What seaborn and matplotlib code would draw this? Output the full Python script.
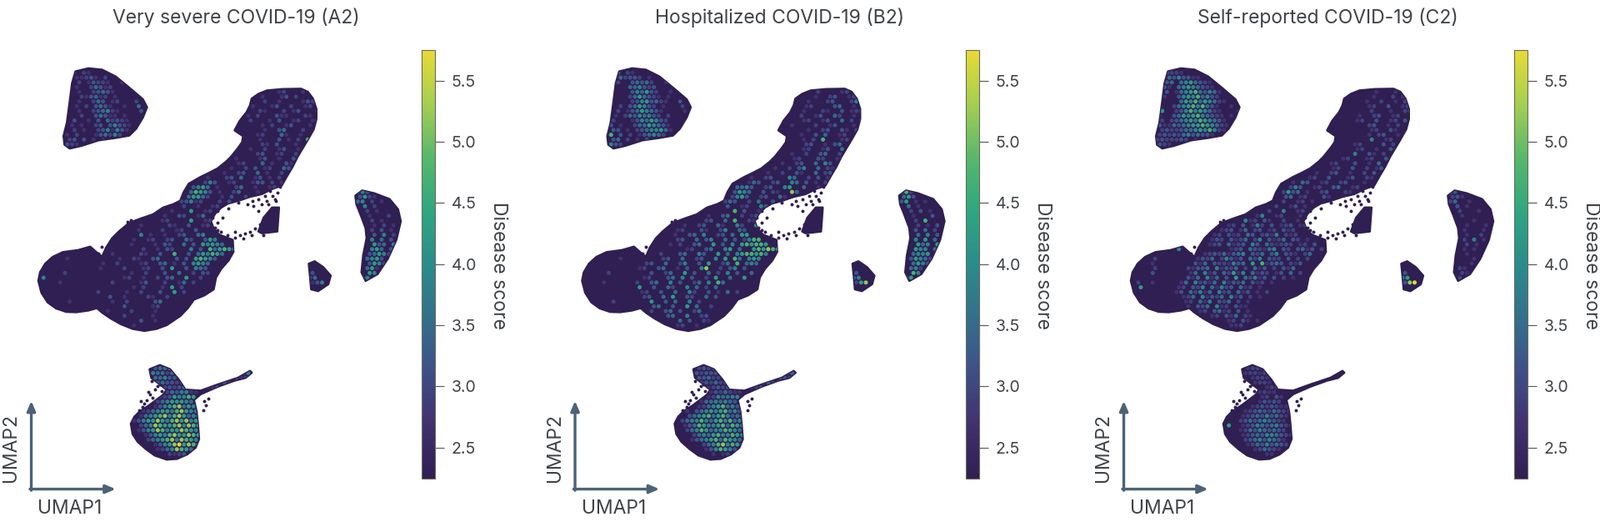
import pandas as pd
import matplotlib
matplotlib.use('Agg')
import matplotlib.pyplot as plt
from matplotlib.colors import LinearSegmentedColormap, Normalize
from matplotlib.path import Path
from matplotlib.transforms import Affine2D
import seaborn as sns

# titles and colorbar
titles = ['Very severe COVID-19 (A2)', 'Hospitalized COVID-19 (B2)', 'Self-reported COVID-19 (C2)']
cbar_ticks = [2.5, 3.0, 3.5, 4.0, 4.5, 5.0, 5.5]
cbar_label = 'Disease score'
score_min = 2.25
score_max = 5.75

# outlines of the clusters
top_blob = [(222,210),(260,201),(300,205),(340,225),(385,262),(420,292),(432,315),(420,345),(400,378),(380,398),
            (340,405),(290,412),(240,428),(205,436),(190,425),(187,400),(197,360),(205,300),(212,245)]
main_body = [(740,290),(760,276),(785,266),(830,262),(885,261),(905,270),(920,290),(930,320),(930,350),(922,380),
             (905,410),(890,435),(875,460),(860,490),(845,515),(828,545),(800,555),(770,570),(735,578),(700,590),
             (670,598),(650,610),(632,628),(620,650),(628,672),(645,690),(684,705),(686,740),(672,765),(650,790),
             (635,815),(628,850),(600,868),(570,880),(552,905),(530,928),(490,955),(460,966),(425,972),(390,966),
             (355,952),(325,935),(300,918),(285,905),(260,912),(225,917),(195,916),(165,906),(140,888),(122,860),
             (113,825),(118,800),(133,775),(155,755),(185,741),(230,735),(265,725),(282,740),(300,755),(312,728),
             (330,700),(350,680),(380,655),(415,642),(450,630),(480,610),(510,600),(530,590),(540,565),(555,540),
             (590,520),(615,508),(640,495),(665,475),(680,460),(700,435),(712,418),(715,400),(690,383),(705,355),
             (725,330),(735,310)]
side_lobe = [(760,680),(775,640),(800,610),(820,610),(815,680),(770,685)]
crescent = [(1045,575),(1065,560),(1100,568),(1145,585),(1170,615),(1178,650),(1165,705),(1140,760),(1110,805),
            (1075,825),(1063,800),(1068,750),(1078,700),(1075,670),(1060,630),(1048,600)]
small_blob = [(908,775),(925,768),(950,785),(972,810),(965,835),(935,855),(915,850),(912,815)]
bottom_blob = [(440,1085),(470,1073),(500,1085),(525,1115),(545,1145),(590,1148),(640,1130),(700,1110),(735,1090),
               (740,1095),(722,1110),(690,1118),(640,1136),(590,1158),(570,1175),(578,1210),(582,1250),(585,1290),
               (575,1315),(550,1335),(520,1348),(490,1350),(455,1338),(430,1320),(405,1298),(390,1275),(385,1245),
               (395,1225),(410,1210),(440,1190),(480,1160),(490,1145),(465,1125),(445,1110)]
outlines = [top_blob, main_body, side_lobe, crescent, small_blob, bottom_blob]

# loose cells around the hole and the bottom cluster
stray_x = [640,655,625,615,632,650,668,690,705,720,735,750,765,760,745,770,785,800,815,822,810,795,780,760,742,728,
           700,672,655,640,612,625,300,290,280,470,455,440,430,445,420,408,400,605,612,520,500,475,462,448,436,425,
           415,393,600,598,640,660,375,385,280,295,690,715,740,775,790,808]
stray_y = [620,600,640,660,668,680,690,682,690,686,680,672,660,620,605,600,590,575,565,548,590,560,575,585,590,600,
           596,612,640,655,650,675,725,745,770,1130,1145,1160,1175,1120,1195,1205,1225,1190,1170,615,605,1150,1135,
           1168,1152,1185,1178,1240,1178,1205,675,700,652,648,885,905,698,700,692,690,600,585]

# score of each digit in the cell maps below, 0 means no visible cell
digit_scores = [0, 2.7, 2.95, 3.2, 3.5, 3.85, 4.25, 4.7, 5.2, 5.65]

# cell maps, one line per row, "column:digits"
cells_a = [
 "10:00", "8:10210", "8:0112310200", "8:020132210010", "8:0100243120000",
 "8:01002343100000 49:001200010", "8:002134120100000 47:010001302000", "8:0100243012000200 46:0020010000132",
 "7:00102034310010040 45:010001300200120", "7:001002345210000300 45:002100020130001", "7:000200343110100000 44:0102000311000210",
 "7:0300103042321000 43:00200010300120012", "7:0101002303532100 43:00000102001300010", "7:020100235153100 42:000000100340002001",
 "6:01020001342520 44:000120004100100", "6:02303010100 44:00010003010207", "6:03210 44:0000210300010030",
 "43:00100200130010", "42:000002300120020", "41:0100001300100312",
 "40:000120004010031", "39:0010020301200430", "37:000100230040100200", "35:010002304001301020",
 "32:0000253001200013302010", "32:03564010002400100120", "32:0476530100240001 68:353", "31:04664200103002 68:362100",
 "30:023512000203 68:4502010", "28:000200100120034 50:00 68:050200000", "26:0001000600120000 50:00 69:02010000",
 "24:000100320014000 49:000 69:010002000", "22:00000120000600120 48:0000 69:0020100000", "19:0001000002100300120060 48:0000 70:01020100",
 "18:000010000200120030 47:00000 70:0203010", "17:0000050100100230045 70:0305020", "17:0000100120023004200365 70:0504030",
 "16:000010000103200403065654 70:063405", "9:0000000000000020010320005030746765 70:056403", "5:00000000000100000210030070030465764 69:0346520",
 "4:00010000000000100210034000303067653 69:0456301", "3:00000000000100200001200340103056540 69:036520", "2:00000000000010000200012003060030543 69:04610",
 "1:0000020000000000000100200030040020320 58:300 69:0650", "1:050000000000000000120010020340060020 58:2400 69:45",
 "1:0000100000000002000001300020014020 58:1350", "1:00000000000000000000102000106020",
 "1:000000000000200000100200030060200", "2:00000000000000300100002100200000", "3:0000100000000100200000340000",
 "4:000000000000000300000120000", "7:0000 14:01000020000100000", "16:000200000100000", "18:000030010000", "19:001000000", "22:000",
 "", "", "", "", "", "", "",
 "25:3444", "24:354424 44:25", "25:44533 42:212", "26:343322 39:1311", "27:23234 36:1131",
 "27:324355110", "26:12365576", "25:024566654", "24:01356784657", "22:01245665786546", "21:014567857864567",
 "20:0135668657868564", "20:0024587667858765", "20:0013568756687654", "21:001356578668764", "21:00024567858765",
 "22:0001356896875", "23:00012458764", "26:002123", "28:000",
]
cells_b = [
 "10:00", "8:30210", "8:1423320100", "8:200343420010", "8:0004453230000",
 "8:00035463200100 49:020000120", "8:000246432101000 47:000100230012", "8:0002356342100300 46:0010002300025",
 "7:00203465320100020 45:000120000340010", "7:020134654310000100 45:001000210030123", "7:010243545320200000 44:0002001300420010",
 "7:2000135465320000 43:00001200130040203", "7:3010024465431000 43:00100002001300010", "7:330102345564100 42:000000100230031020",
 "6:27030201345420 44:000100304001200", "6:03402010300 44:0001020700012", "6:05320 44:0000230010340010",
 "43:00001200130040", "42:000100200340020", "41:0000120003200130",
 "40:000100230040530", "39:0010020350040210", "37:000100200310040230", "35:010023000540020301",
 "32:0000143002300540301020", "32:04453002300560040010", "32:0365400302100840 68:572", "31:02563002300410 68:463000",
 "30:024300204003 68:3601010", "28:000300120053 50:00 68:040100000", "26:0000000703001200 50:00 69:02030100",
 "24:000100340020130 49:000 69:010003000", "22:00000230040700210 48:0000 69:0020700000", "19:0001002300410052006301 48:0000 70:02010300",
 "18:000120003100250043 47:00000 70:0304020", "17:0001003405002304066 70:0405030", "17:0000230040350040302577 70:0506040",
 "16:000102003400603050676776 70:064506", "9:0000000000000012003400560400676877 70:065504", "5:00000000000020003400530060405677675 69:0455601",
 "4:00000100000000230040023005060740565 69:0365420", "3:00000000000230040025003060024070454 69:046530", "2:00000000000120034001030058002035030 69:04520",
 "1:0000020000000030024006030040205030040 58:300 69:0750", "1:000000000000012000340503002060040060 58:3500 69:46",
 "1:0000100000020034005030024050740 58:2680", "1:00000000000060030042005040204",
 "1:000000000000120030040052003010402", "2:00000000000023004060032004030000", "3:0000200000006003040050200",
 "4:000000000000340030060400200", "7:0000 14:02003403002400000", "16:000340050023000", "18:000403002100", "19:001200100", "22:000",
 "", "", "", "", "", "", "",
 "25:2322", "24:232333 44:34", "25:33422 42:332", "26:232423 39:2422", "27:12323 36:1231",
 "27:213242110", "26:01254455", "25:014454543", "24:01245674536", "22:01034565674535", "21:003456746753456",
 "20:0024557546757453", "20:0013476556747654", "20:0002457645576543", "21:000245467557653", "21:00013456747654",
 "22:0000245785764", "23:00001357653", "26:001012", "28:000",
]
cells_c = [
 "10:00", "8:32210", "8:3435331100", "8:340456432100", "8:3104565432100",
 "8:30145674354100 49:000100010", "8:100356574532000 47:000001000201", "8:0004657465421000 46:0000100200102",
 "7:20024567574310010 45:000000120030012", "7:600235756542100010 45:000000200010023", "7:100346567543210100 44:0000010023001200",
 "7:2023456576543100 43:00000120030012030", "7:3114345667654210 43:00000000230010200", "7:232234456575210 42:000000000120031000",
 "6:12323245343310 44:000000010230010", "6:23222320100 44:0000000500120", "6:23210 44:0000120000302010",
 "43:00000120010031", "42:000000500310200", "41:0000120001200310",
 "40:000120003001040", "39:0000120030020130", "37:000100230010020300", "35:000120030001300210",
 "32:0001043001200230001000", "32:00253001200340012000", "32:0263401002300021 68:530", "31:00340120003100 68:2310",
 "30:000200120100 68:2400100", "28:000200130100 50:00 68:030100000", "26:0000200500120000 50:00 69:02000100",
 "24:000150012000100 49:000 69:010000000", "22:00051203100200100 48:0000 69:0000100000", "19:0012030152030123012100 48:0000 70:01000100",
 "18:001230140230120312 47:00000 70:0100010", "17:0120312043023150212 70:0100200", "17:0132031240250312403201 70:0205010",
 "16:012304123053042123201203 70:020100", "9:0050000000000123043214503203413020 70:010100", "5:00000000000123241345032403503210240 69:0010000",
 "4:00200000000132402531304250322030202 69:0000100", "3:00100000000314032215340607134302130 69:000100", "2:00002000000213340513240204130203140 69:02100",
 "1:0000300000001405130426150413201304020 58:300 69:0210", "1:000000000000314051403060425130302010 58:4600 69:02",
 "1:0200100000140523140513240312010 58:3890", "1:00600000001203250415230412010",
 "1:000000000130425140523041301020000", "2:00000000001240513240513020100000", "3:0000000001204150324020100",
 "4:000000000103240512031100000", "7:0000 14:01203412030100000", "16:001203140210000", "18:000120310100", "19:000112000", "22:000",
 "", "", "", "", "", "", "",
 "25:1221", "24:012212 44:00", "25:01221 42:000", "26:012210 39:0000", "27:00121 36:0000",
 "27:012110000", "26:00120310", "25:000132320", "24:00123232110", "22:00012343243210", "21:000123435342100",
 "20:0000234345432100", "20:0600123543453210", "20:0000124354343200", "21:000123435543210", "21:00002345354310",
 "22:0001243534320", "23:00001243210", "26:000110", "28:000",
]
panel_cells = [cells_a, cells_b, cells_c]

# colorbar colours
cmap = LinearSegmentedColormap.from_list('score', ['#2f1f52', '#41316f', '#3f4f88', '#33708c', '#2a8c8a', '#2fa681',
                                                   '#57b86c', '#a5cf52', '#e8da35'])
norm = Normalize(score_min, score_max)
dark = cmap(0.0)
text_col = '#3f4347'
arrow_col = '#4b6277'


def read_cells(rows):
    out = []
    for r, line in enumerate(rows):
        for part in line.split():
            start, digits = part.split(':')
            for k, d in enumerate(digits):
                if d != '0':
                    # every other row sits half a cell over
                    out.append((100 + 14 * (int(start) + k) + 7 * (r % 2), 200 + 14 * r, digit_scores[int(d)]))
    return pd.DataFrame(out, columns=['umap1', 'umap2', 'score'])


sns.set_style('white')
plt.rcParams['font.family'] = ['Inter', 'DejaVu Sans']

W, H = 1920, 632
Z = 2.45  # outline units per output pixel
fig = plt.figure(figsize=(W / 100, H / 100), dpi=100)

clip = Path.make_compound_path(*[Path(o + [o[0]], closed=True) for o in outlines])
arrow_style = dict(arrowstyle='-|>,head_length=0.7,head_width=0.3', color=arrow_col, lw=2.4, shrinkA=0, shrinkB=0)

for i, (left, cleft) in enumerate([(0, 506), (652.5, 1159), (1311, 1817)]):
    ax = fig.add_axes([left / W, 0, 500 / W, 1])
    ax.set_xlim(0, 500 * Z)
    ax.set_ylim(H * Z, 0)
    ax.axis('off')

    for o in outlines:
        xs, ys = zip(*o)
        ax.fill(xs, ys, color=dark, lw=2, joinstyle='round', zorder=1)

    sns.scatterplot(x=stray_x, y=stray_y, color=dark, s=8, linewidth=0, ax=ax, zorder=2, legend=False)

    df = read_cells(panel_cells[i]).sort_values('score')
    sns.scatterplot(data=df, x='umap1', y='umap2', hue='score', palette=cmap, hue_norm=norm, s=13, linewidth=0,
                    legend=False, ax=ax, zorder=3)
    ax.collections[-1].set_clip_path(clip, ax.transData)
    ax.set_xlabel('')
    ax.set_ylabel('')

    ax.text(693, 52, titles[i], ha='center', va='center', fontsize=16.5, color=text_col)

    # UMAP arrows
    ax.annotate('', xy=(92, 1178), xytext=(92, 1441), arrowprops=arrow_style)
    ax.annotate('', xy=(340, 1437), xytext=(88, 1437), arrowprops=arrow_style)
    ax.text(205, 1495, 'UMAP1', ha='center', va='center', fontsize=16.5, color=text_col)
    ax.text(32, 1315, 'UMAP2', ha='center', va='center', rotation=90, fontsize=16.5, color=text_col)

    # colorbar
    cax = fig.add_axes([cleft / W, 1 - 573.5 / H, 16 / W, 513.5 / H])
    cb = fig.colorbar(plt.cm.ScalarMappable(norm=norm, cmap=cmap), cax=cax)
    cb.set_ticks(cbar_ticks)
    cb.ax.tick_params(length=8, width=0.8, color='#555555', labelsize=14, labelcolor=text_col, pad=6)
    cb.outline.set_edgecolor('#6b6b5a')
    cb.outline.set_linewidth(0.8)
    cax.text(cleft + 92, H - 318, cbar_label, rotation=270, ha='center', va='center', fontsize=16.5, color=text_col,
             transform=Affine2D())

fig.savefig('out.png', dpi=100)
